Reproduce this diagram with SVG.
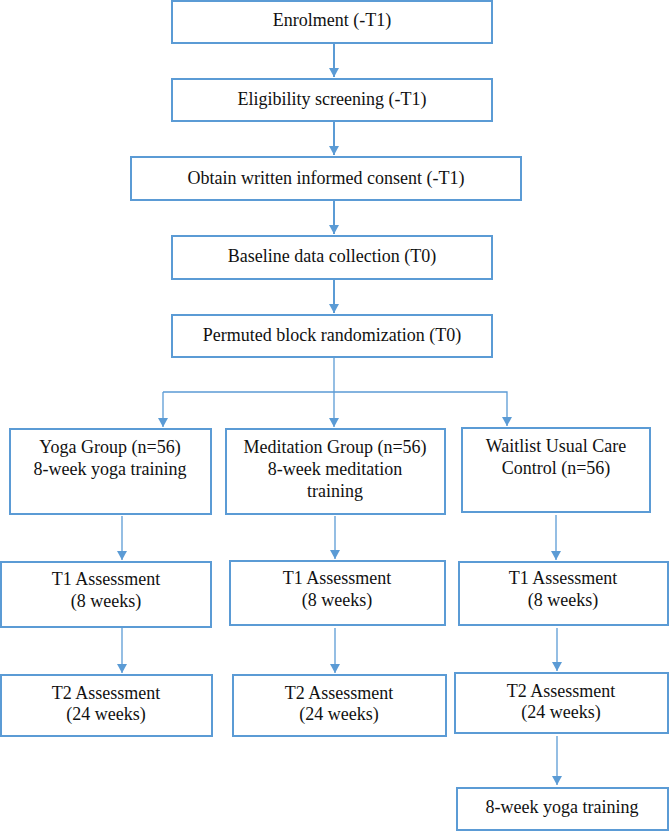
<svg xmlns="http://www.w3.org/2000/svg" width="669" height="831" viewBox="0 0 669 831">
<style>
.box{fill:#ffffff;stroke:#5b9bd5;stroke-width:2}
text{font-family:'Liberation Serif','Times New Roman',Times,'DejaVu Serif',serif;font-size:18px;fill:#111;text-anchor:middle}
.c1{stroke:#5b9bd5;stroke-width:2;fill:none}
.c2{stroke:#5b9bd5;stroke-width:1.3;fill:none}
.ah{fill:#5b9bd5}
</style>
<defs>
<marker id="arr" markerWidth="9" markerHeight="10" refX="9" refY="5" orient="auto" markerUnits="userSpaceOnUse">
<path d="M0,0 L9,5 L0,10 z" class="ah"/>
</marker>
</defs>
<rect width="669" height="831" fill="#ffffff"/>
<g id="connectors">
<line class="c1" x1="334" y1="43" x2="334" y2="77" marker-end="url(#arr)"/>
<line class="c1" x1="334" y1="121" x2="334" y2="155" marker-end="url(#arr)"/>
<line class="c1" x1="334" y1="200" x2="334" y2="234" marker-end="url(#arr)"/>
<line class="c1" x1="334" y1="279" x2="334" y2="313" marker-end="url(#arr)"/>
<polyline class="c2" points="334,357 334,392"/>
<polyline class="c2" points="163,392 507,392 507,426" marker-end="url(#arr)"/>
<line class="c2" x1="163" y1="392" x2="163" y2="427" marker-end="url(#arr)"/>
<line class="c2" x1="334" y1="392" x2="334" y2="427" marker-end="url(#arr)"/>
<line class="c2" x1="122" y1="516" x2="122" y2="560" marker-end="url(#arr)"/>
<line class="c2" x1="335" y1="516" x2="335" y2="559" marker-end="url(#arr)"/>
<line class="c2" x1="556" y1="515" x2="556" y2="560" marker-end="url(#arr)"/>
<line class="c2" x1="122" y1="628" x2="122" y2="673" marker-end="url(#arr)"/>
<line class="c2" x1="335" y1="628" x2="335" y2="673" marker-end="url(#arr)"/>
<line class="c2" x1="557" y1="628" x2="557" y2="671" marker-end="url(#arr)"/>
<line class="c2" x1="557" y1="736" x2="557" y2="785" marker-end="url(#arr)"/>
</g>
<g id="enrolment">
<rect class="box" x="172" y="1" width="320" height="42"/>
<text x="332" y="26" font-family="Liberation Serif, serif">Enrolment (-T1)</text>
</g>
<g id="eligibility">
<rect class="box" x="172" y="79" width="320" height="42"/>
<text x="332" y="105">Eligibility screening (-T1)</text>
</g>
<g id="consent">
<rect class="box" x="131" y="157" width="390" height="43"/>
<text x="326" y="184">Obtain written informed consent (-T1)</text>
</g>
<g id="baseline">
<rect class="box" x="172" y="236" width="320" height="43"/>
<text x="332" y="262">Baseline data collection (T0)</text>
</g>
<g id="randomization">
<rect class="box" x="172" y="315" width="320" height="42"/>
<text x="332" y="341">Permuted block randomization (T0)</text>
</g>
<g id="yoga">
<rect class="box" x="10" y="429" width="201" height="85"/>
<text x="110" y="453">Yoga Group (n=56)</text>
<text x="110" y="475">8-week yoga training</text>
</g>
<g id="meditation">
<rect class="box" x="226" y="429" width="219" height="85"/>
<text x="335" y="453">Meditation Group (n=56)</text>
<text x="335" y="475">8-week meditation</text>
<text x="335" y="497">training</text>
</g>
<g id="waitlist">
<rect class="box" x="462" y="428" width="188" height="84"/>
<text x="556" y="452">Waitlist Usual Care</text>
<text x="556" y="474">Control (n=56)</text>
</g>
<g id="t1-yoga">
<rect class="box" x="1" y="562" width="210" height="65"/>
<text x="106" y="585">T1 Assessment</text>
<text x="106" y="607">(8 weeks)</text>
</g>
<g id="t1-meditation">
<rect class="box" x="230" y="561" width="215" height="64"/>
<text x="337" y="584">T1 Assessment</text>
<text x="337" y="606">(8 weeks)</text>
</g>
<g id="t1-waitlist">
<rect class="box" x="459" y="562" width="209" height="63"/>
<text x="563" y="584">T1 Assessment</text>
<text x="563" y="606">(8 weeks)</text>
</g>
<g id="t2-yoga">
<rect class="box" x="1" y="675" width="211" height="61"/>
<text x="106" y="699">T2 Assessment</text>
<text x="106" y="720">(24 weeks)</text>
</g>
<g id="t2-meditation">
<rect class="box" x="233" y="675" width="213" height="61"/>
<text x="339" y="699">T2 Assessment</text>
<text x="339" y="720">(24 weeks)</text>
</g>
<g id="t2-waitlist">
<rect class="box" x="455" y="673" width="213" height="60"/>
<text x="561" y="697">T2 Assessment</text>
<text x="561" y="718">(24 weeks)</text>
</g>
<g id="yoga-waitlist">
<rect class="box" x="457" y="788" width="211" height="42"/>
<text x="562" y="813">8-week yoga training</text>
</g>
</svg>
